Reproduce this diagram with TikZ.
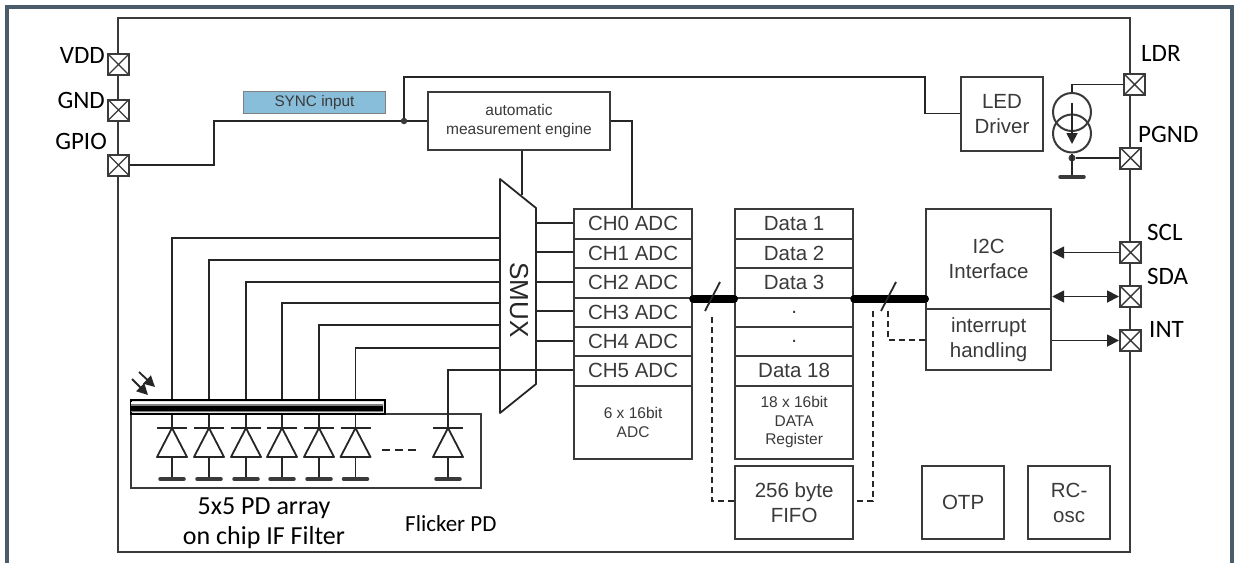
\documentclass[tikz,border=0pt]{standalone}
\usepackage{fontspec}
\setmainfont{Liberation Sans}
\newfontfamily\labelfont{Carlito}
\usetikzlibrary{arrows.meta}
\definecolor{chipline}{HTML}{3A3A3A}
\definecolor{frameline}{HTML}{4A5B69}
\definecolor{syncblue}{HTML}{89BEDB}
\tikzset{
  wire/.style={draw=black!85, line width=1.8pt},
  dashwire/.style={wire, dash pattern=on 6pt off 4pt},
  block/.style={draw=chipline, line width=2.2pt, fill=white, text=chipline, align=center, font=\fontsize{20.5}{25}\selectfont, inner sep=0pt},
  smalltext/.style={font=\fontsize{15.5}{18.8}\selectfont},
  pad/.style={draw=chipline, line width=2pt, fill=white, minimum size=21pt, inner sep=0pt, path picture={\draw[chipline, line width=1.4pt] (path picture bounding box.north west) -- (path picture bounding box.south east) (path picture bounding box.north east) -- (path picture bounding box.south west);}},
  pinlabel/.style={font=\labelfont\fontsize{25}{29}\selectfont, text=black, inner sep=0pt},
  bus/.style={line width=8pt, line cap=round, black},
  gndbar/.style={line width=3.5pt, line cap=round, chipline},
  dot/.style={circle, fill=chipline, inner sep=0pt, minimum size=7pt},
  sig/.style={wire, -{Triangle[length=12pt, width=12pt]}},
  sigboth/.style={wire, {Triangle[length=12pt, width=12pt]}-{Triangle[length=12pt, width=12pt]}},
  lighttip/.style={wire, -{Triangle[length=11pt, width=11pt]}}
}
\newcommand{\blockrow}[5]{\node[block, minimum width=118pt, minimum height=#4pt, anchor=north west] (#1) at (#2,#3) {#5};}
\begin{document}
\begin{tikzpicture}[x=1pt, y=-1pt]
   \useasboundingbox (0,0) rectangle (1238,563);
   % frame and chip
   \draw[frameline, line width=3.4pt] (7,563) -- (7,7) -- (1232,7) -- (1232,563);
   \draw[chipline, line width=2.5pt] (118,18) rectangle (1130,552);

   % pads
   \node[pad] (vdd) at (118.5,64.5) {};
   \node[pad] (gnd) at (118.5,110) {};
   \node[pad] (gpio) at (118.5,165) {};
   \node[pad] (ldr) at (1134.5,84.5) {};
   \node[pad] (pgnd) at (1130.5,158) {};
   \node[pad] (scl) at (1130.5,252.5) {};
   \node[pad] (sda) at (1130.5,296.5) {};
   \node[pad] (int) at (1130.5,340.5) {};
   \node[pinlabel, anchor=east] at (105,55) {VDD};
   \node[pinlabel, anchor=east] at (105,100) {GND};
   \node[pinlabel, anchor=east] at (107,141) {GPIO};
   \node[pinlabel, anchor=west] at (1141,53) {LDR};
   \node[pinlabel, anchor=west] at (1138,134) {PGND};
   \node[pinlabel, anchor=west] at (1147,232) {SCL};
   \node[pinlabel, anchor=west] at (1147,276) {SDA};
   \node[pinlabel, anchor=west] at (1149,329) {INT};

   % top blocks
   \node[draw=black!50, line width=1pt, fill=syncblue, text=chipline, minimum width=142pt, minimum height=22pt, inner sep=0pt, font=\fontsize{15.3}{18}\selectfont] (sync) at (314.5,102.5) {SYNC input};
   \node[block, minimum width=182pt, minimum height=58pt, font=\fontsize{15.5}{19}\selectfont] (ame) at (519,121) {automatic\\measurement engine};
   \node[block, minimum width=82pt, minimum height=74pt] (led) at (1002,114) {LED\\Driver};
   \node[dot, minimum size=6.5pt] (syncdot) at (404,121) {};
   \coordinate (ldrturn) at (925,77);
   \draw[wire] (gpio) -- (214,165) -- (214,121) -- (syncdot);
   \draw[wire] (syncdot) -- (ame);
   \draw[wire] (syncdot) -- (404,77) -- (ldrturn) -- (925,113.5) -- (led.west |- 0,113.5);

   % ADC column
   \foreach \n/\y in {0/208,1/237.5,2/267,3/296.5,4/326,5/355}
      \blockrow{ch\n}{573}{\y}{29.5}{CH\n{} ADC}
   \node[block, smalltext, minimum width=118pt, minimum height=73pt, anchor=north west] (adc) at (573,384.5) {6 x 16bit\\ADC};
   \draw[wire] (ame.east) -- (632,121) -- (632,208);

   % data column
   \foreach \name/\y/\txt in {d1/208/Data 1,d2/237.5/Data 2,d3/267/Data 3,d4/296.5/.,d5/326/.,d6/355/Data 18}
      \blockrow{\name}{734}{\y}{29.5}{\txt}
   \node[block, smalltext, minimum width=118pt, minimum height=73pt, anchor=north west] (reg) at (734,384.5) {18 x 16bit\\DATA\\Register};
   \node[block, minimum width=118pt, minimum height=73pt, anchor=north west] (fifo) at (734,465) {256 byte\\FIFO};

   % right blocks
   \node[block, minimum width=125pt, minimum height=100pt, anchor=north west] (i2c) at (925,208) {I2C\\Interface};
   \node[block, minimum width=125pt, minimum height=61pt, anchor=north west] (irq) at (925,308) {interrupt\\handling};
   \node[block, minimum width=82pt, minimum height=73pt, anchor=north west] (otp) at (921,465) {OTP};
   \node[block, minimum width=82pt, minimum height=73pt, anchor=north west] (rc) at (1027,465) {RC-\\osc};

   % smux
   \draw[wire, fill=white, line join=round] (500,179) -- (536,208) -- (536,384) -- (500,413) -- cycle;
   \node[rotate=-90, text=black!85, font=\fontsize{26}{30}\selectfont, inner sep=0pt] (smux) at (519,300) {SMUX};
   \coordinate (muxtop) at (522,195);
   \draw[wire] (ame.south -| muxtop) -- (muxtop);
   \foreach \n/\y in {0/223,1/252,2/282,3/311,4/341}
      \draw[wire] (536,\y) -- (ch\n.west |- 0,\y);

   % photodiodes
   \node[draw=chipline, line width=2pt, minimum width=350pt, minimum height=74pt, anchor=north west, inner sep=0pt] (pdbox) at (130,413) {};
   \foreach \n/\x in {a/172,b/209,c/246,e/282,f/319,g/355.5,h/448}{
      \draw[wire] (\x-15,428) -- (\x+15,428);
      \draw[wire, line join=round] (\x,428) -- (\x-15,457) -- (\x+15,457) -- cycle;
      \coordinate (gnd\n) at (\x,479);
      \draw[wire] (\x,457) -- (gnd\n);
      \draw[gndbar] (\x-12,479) -- (\x+12,479);
   }
   \foreach \x/\y in {172/238,209/260,246/282,282/303,319/325,355.5/348}
      \draw[wire] (\x,428) -- (\x,\y) -- (500,\y);
   \draw[wire] (448,428) -- (448,370) -- (ch5.west |- 0,370);
   \draw[wire, dash pattern=on 8pt off 5pt] (382,450) -- (420,450);

   % filter
   \node[draw=black, line width=2pt, fill=black!12, minimum width=254pt, minimum height=14pt, anchor=north west, inner sep=0pt] (filter) at (130,399) {};
   \fill[white] (131,402) rectangle (383,404);
   \fill[black!50] (131,404) rectangle (383,405.5);
   \fill[black] (131,405.5) rectangle (383,410.5);
   \fill[black!50] (131,410.5) rectangle (383,412);
   \coordinate (lighta) at (139,372);
   \coordinate (lightb) at (132,379);
   \draw[lighttip] (lighta) -- (155,387);
   \draw[lighttip] (lightb) -- (148,395);
   \node[font=\labelfont\fontsize{26}{30}\selectfont, align=center, inner sep=0pt] (pdlabel) at (264,523.5) {5x5 PD array\\on chip IF Filter};
   \node[font=\labelfont\fontsize{23}{27}\selectfont, inner sep=0pt, anchor=west] (flicker) at (405,523.5) {Flicker PD};

   % buses
   \draw[bus] (ch2.south east) -- (d3.south west);
   \draw[bus] (d3.south east) -- (i2c.west |- d3.south east);
   \draw[wire] (705,311) -- (720,282);
   \draw[wire] (881,311) -- (896,282);
   \draw[dashwire] (712,317) -- (712,501) -- (fifo.west |- 0,501);
   \draw[dashwire] (873,311) -- (873,501) -- (fifo.east |- 0,501);
   \draw[dashwire] (888,311) -- (888,340) -- (irq.west |- 0,340);

   % pins right
   \draw[sig] (scl.west) -- (i2c.east |- scl);
   \draw[sigboth] (i2c.east |- sda) -- (sda.west);
   \draw[sig] (irq.east |- int) -- (int.west);

   % current source
   \node[draw=chipline, line width=2pt, circle, minimum size=38pt, inner sep=0pt] (srca) at (1072,112) {};
   \node[draw=chipline, line width=2pt, circle, minimum size=38pt, inner sep=0pt] (srcb) at (1072,133.5) {};
   \node[dot] (srcdot) at (1072,158) {};
   \coordinate (srcgnd) at (1072,177);
   \draw[wire] (srca.north) -- (1072,84.5) -- (ldr.west);
   \draw[wire] (srcb.south) -- (srcgnd);
   \draw[wire] (srcdot) -- (pgnd.west);
   \draw[wire, -{Triangle[length=11pt, width=11pt]}] (1072,103) -- (1072,144);
   \draw[gndbar] (1060,177) -- (1084,177);
\end{tikzpicture}
\end{document}
